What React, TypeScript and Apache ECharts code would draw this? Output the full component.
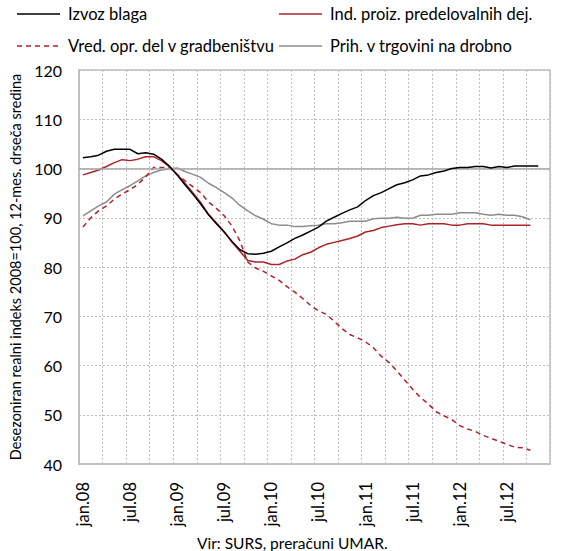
import React, { useEffect, useRef } from "react";
import * as echarts from "echarts";

const monthNames = ["jan", "feb", "mar", "apr", "maj", "jun", "jul", "avg", "sep", "okt", "nov", "dec"];
const years = ["08", "09", "10", "11", "12"];
const categories: string[] = [];
years.forEach((y) => monthNames.forEach((m) => categories.push(m + "." + y)));

const izvozBlaga = [
  102.2, 102.4, 102.7, 103.5, 103.9, 103.9, 103.9, 103.0, 103.2, 102.9,
  101.9, 100.5, 98.7, 96.7, 94.8, 92.8, 90.6, 88.8, 87.1, 85.2,
  83.5, 82.7, 82.6, 82.8, 83.2, 84.1, 84.9, 85.8, 86.5, 87.3,
  88.1, 89.3, 90.1, 90.9, 91.6, 92.2, 93.5, 94.5, 95.1, 95.9,
  96.7, 97.1, 97.7, 98.5, 98.7, 99.2, 99.5, 100.0, 100.2, 100.2,
  100.4, 100.4, 100.1, 100.4, 100.2, 100.5, 100.5, 100.5, 100.5,
];

const indProiz = [
  98.7, 99.2, 99.7, 100.4, 101.2, 101.8, 101.6, 101.9, 102.4, 102.4,
  101.6, 100.4, 98.8, 97.0, 95.1, 93.1, 90.7, 89.0, 87.1, 85.0,
  83.2, 81.3, 81.0, 81.0, 80.5, 80.5, 81.2, 81.6, 82.5, 83.0,
  83.9, 84.6, 85.0, 85.4, 85.8, 86.3, 87.1, 87.4, 88.0, 88.3,
  88.6, 88.8, 88.8, 88.5, 88.8, 88.8, 88.8, 88.5, 88.5, 88.8,
  88.8, 88.8, 88.5, 88.5, 88.5, 88.5, 88.5, 88.5,
];

const vredGradb = [
  88.1, 90.0, 91.4, 92.4, 93.8, 94.8, 95.7, 96.8, 98.3, 100.2,
  100.2, 100.2, 98.8, 97.5, 96.3, 95.1, 93.2, 91.9, 90.4, 88.3,
  85.3, 81.0, 79.8, 79.1, 78.2, 77.3, 76.0, 74.9, 73.6, 72.2,
  71.1, 70.4, 69.0, 67.5, 66.3, 65.6, 64.8, 63.6, 61.9, 60.6,
  58.9, 57.0, 55.2, 53.5, 52.2, 50.6, 49.8, 49.0, 47.8, 47.1,
  46.6, 45.8, 45.2, 44.6, 44.0, 43.4, 43.3, 42.8,
];

const prihTrg = [
  90.4, 91.4, 92.4, 93.2, 94.8, 95.7, 96.5, 97.5, 98.5, 99.2,
  99.7, 99.9, 100.1, 99.4, 98.8, 98.2, 97.0, 96.1, 95.1, 94.0,
  92.5, 91.4, 90.4, 89.7, 88.8, 88.5, 88.5, 88.2, 88.2, 88.4,
  88.5, 88.8, 88.8, 89.0, 89.3, 89.3, 89.3, 89.8, 89.9, 89.9,
  90.1, 89.9, 89.9, 90.5, 90.5, 90.7, 90.7, 90.7, 91.0, 91.0,
  91.0, 90.7, 90.5, 90.7, 90.5, 90.5, 90.2, 89.6,
];

const seriesNames = [
  "Izvoz blaga",
  "Ind. proiz. predelovalnih dej.",
  "Vred. opr. del v gradbeništvu",
  "Prih. v trgovini na drobno",
];
const yTicks = { min: 40, max: 120, interval: 10 };
const yAxisName = "Desezoniran realni indeks 2008=100, 12-mes. drseča sredina";
const sourceText = "Vir: SURS, preračuni UMAR.";

const FONT = "Lato, 'Open Sans', sans-serif";
const RED = "#ae2228";
const GRAY = "#8c8c8c";
const GRID = "#bfbfbf";

function legendItem(name: string, x: number, y: number, color: string, dashed: boolean) {
  return [
    {
      type: "line",
      shape: { x1: x, y1: y, x2: x + (dashed ? 45 : 43), y2: y },
      style: { stroke: color, lineWidth: 1.5, lineDash: dashed ? [5, 4] : null },
      silent: true,
    },
    {
      type: "text",
      x: x + 51,
      y: y,
      style: {
        text: name,
        fontFamily: FONT,
        fontSize: 16.5,
        fill: "#000",
        verticalAlign: "middle",
        align: "left",
      },
      silent: true,
    },
  ];
}

export default function App() {
  const ref = useRef<HTMLDivElement>(null);
  useEffect(() => {
    document.body.style.margin = "0";
    if (!ref.current) return;
    const chart = echarts.init(ref.current, null, { renderer: "svg" });
    chart.setOption({
      animation: false,
      textStyle: { fontFamily: FONT },
      grid: { left: 76, right: 11, top: 70, bottom: 87, show: true, borderColor: GRID, borderWidth: 1.5 },
      xAxis: {
        type: "category",
        data: categories,
        boundaryGap: true,
        axisLine: { lineStyle: { color: GRID, width: 1.5 } },
        axisTick: { show: false },
        axisLabel: {
          interval: 5,
          rotate: 90,
          fontSize: 16.5,
          color: "#000",
          fontFamily: FONT,
          margin: 18,
        },
        splitLine: { show: true, interval: 2, lineStyle: { color: GRID, type: [2, 2], width: 1 } },
      },
      yAxis: {
        type: "value",
        min: yTicks.min,
        max: yTicks.max,
        interval: yTicks.interval,
        name: yAxisName,
        nameLocation: "middle",
        nameGap: 56,
        nameTextStyle: { fontFamily: FONT, fontSize: 14.5, color: "#000" },
        axisLine: { show: true, lineStyle: { color: GRID, width: 2 } },
        axisTick: { show: false },
        axisLabel: { fontSize: 16, color: "#000", fontFamily: FONT, margin: 17 },
        splitLine: { show: true, lineStyle: { color: GRID, type: [2, 2], width: 1 } },
      },
      graphic: [
        ...legendItem(seriesNames[0], 17, 14, "#000", false),
        ...legendItem(seriesNames[1], 279, 14, RED, false),
        ...legendItem(seriesNames[2], 17, 46, RED, true),
        ...legendItem(seriesNames[3], 279, 46, GRAY, false),
        {
          type: "text",
          left: 197,
          top: 535,
          style: { text: sourceText, fontFamily: FONT, fontSize: 15.5, fill: "#000" },
        },
      ],
      series: [
        {
          name: seriesNames[3],
          type: "line",
          data: prihTrg,
          symbol: "none",
          lineStyle: { color: GRAY, width: 1.5 },
          itemStyle: { color: GRAY },
          z: 2,
          markLine: {
            silent: true,
            symbol: "none",
            label: { show: false },
            lineStyle: { color: "#a6a6a6", type: "solid", width: 1.5 },
            data: [{ yAxis: 100 }],
          },
        },
        {
          name: seriesNames[2],
          type: "line",
          data: vredGradb,
          symbol: "none",
          lineStyle: { color: RED, width: 1.5, type: [5, 4] },
          itemStyle: { color: RED },
          z: 3,
        },
        {
          name: seriesNames[1],
          type: "line",
          data: indProiz,
          symbol: "none",
          lineStyle: { color: RED, width: 1.5 },
          itemStyle: { color: RED },
          z: 4,
        },
        {
          name: seriesNames[0],
          type: "line",
          data: izvozBlaga,
          symbol: "none",
          lineStyle: { color: "#000", width: 1.5 },
          itemStyle: { color: "#000" },
          z: 5,
        },
      ],
    });
    return () => chart.dispose();
  }, []);
  return <div ref={ref} style={{ width: 561, height: 551 }} />;
}
